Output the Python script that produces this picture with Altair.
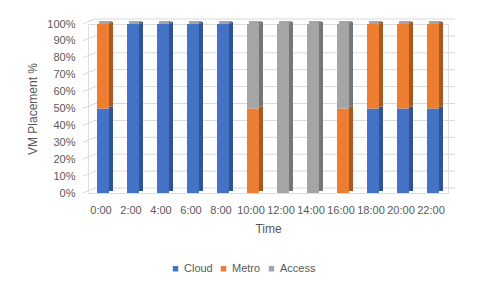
import altair as alt
import pandas as pd

times = ["0:00", "2:00", "4:00", "6:00", "8:00", "10:00", "12:00", "14:00",
         "16:00", "18:00", "20:00", "22:00"]
cloud = [50, 100, 100, 100, 100, 0, 0, 0, 0, 50, 50, 50]
metro = [50, 0, 0, 0, 0, 50, 0, 0, 50, 50, 50, 50]
access = [0, 0, 0, 0, 0, 50, 100, 100, 50, 0, 0, 0]
series = ["Cloud", "Metro", "Access"]
front_colors = ["#4472C4", "#ED7D31", "#A5A5A5"]
side_colors = ["#2F5597", "#A9581F", "#767676"]
ticks = [i / 10 for i in range(11)]

rows = []
for s_i, (name, vals) in enumerate(zip(series, [cloud, metro, access])):
    for t, v in zip(times, vals):
        rows.append({"Time": t, "Series": name, "order": s_i, "value": v / 100})
df = pd.DataFrame(rows)
grid_df = pd.DataFrame({"tick": ticks})
top_df = pd.DataFrame({"Time": times, "top": [1.0] * len(times)})

FONT = "Liberation Sans"
TXT = "#595959"

xscale = alt.Scale(domain=times, paddingInner=0, paddingOuter=0)
yscale = alt.Scale(domain=[0, 1])

xaxis = alt.Axis(title="Time", labelAngle=0, domain=False, ticks=False,
                 labelPadding=11, labelOffset=-2, titlePadding=8,
                 labelFont=FONT, labelFontSize=11, labelColor=TXT,
                 titleFont=FONT, titleFontSize=12, titleColor=TXT,
                 titleFontWeight="normal")
yaxis = alt.Axis(title="VM Placement %", values=ticks, format=".0%",
                 domain=False, ticks=False, grid=False, labelPadding=13,
                 titlePadding=7,
                 labelFont=FONT, labelFontSize=11, labelColor=TXT,
                 titleFont=FONT, titleFontSize=12, titleColor=TXT,
                 titleFontWeight="normal")

grid = alt.Chart(grid_df).mark_rule(color="#d9d9d9", strokeWidth=1, yOffset=-5).encode(
    y=alt.Y("tick:Q", scale=yscale, axis=yaxis),
    x=alt.value(7), x2=alt.value(367),
)
diag = alt.Chart(grid_df).mark_rule(color="#d9d9d9", strokeWidth=1, y2Offset=-5).encode(
    y=alt.Y("tick:Q", scale=yscale, axis=yaxis),
    y2="tick:Q",
    x=alt.value(-5), x2=alt.value(7),
)

side = alt.Chart(df).mark_bar(size=4, xOffset=8, yOffset=-2).encode(
    x=alt.X("Time:N", scale=xscale, sort=times, axis=xaxis),
    y=alt.Y("value:Q", stack="zero", scale=yscale, axis=yaxis),
    color=alt.Color("Series:N", scale=alt.Scale(domain=series, range=side_colors), legend=None),
    order=alt.Order("order:Q"),
)

top = alt.Chart(top_df).mark_tick(size=13, thickness=3, xOffset=2.5, yOffset=-1.5, color="#7f7f7f").encode(
    x=alt.X("Time:N", scale=xscale, sort=times, axis=xaxis),
    y=alt.Y("top:Q", scale=yscale, axis=yaxis),
)

front = alt.Chart(df).mark_bar(size=12).encode(
    x=alt.X("Time:N", scale=xscale, sort=times, axis=xaxis),
    y=alt.Y("value:Q", stack="zero", scale=yscale, axis=yaxis),
    color=alt.Color("Series:N", scale=alt.Scale(domain=series, range=front_colors),
                    legend=alt.Legend(title=None, orient="none", direction="horizontal",
                                      legendX=82, legendY=239, symbolType="square",
                                      symbolSize=30, labelFont=FONT, labelFontSize=11,
                                      labelColor=TXT, columnPadding=5, labelOffset=3)),
    order=alt.Order("order:Q"),
)

chart = alt.layer(grid, diag, side, top, front).resolve_scale(
    color="independent"
).properties(
    width=360, height=169,
    autosize=alt.AutoSizeParams(type="none"),
    padding={"left": 80, "top": 16, "right": 25, "bottom": 80},
).configure_view(stroke=None).configure(background="white")

chart.save("out.html", embed_options={"renderer": "svg", "actions": False})
